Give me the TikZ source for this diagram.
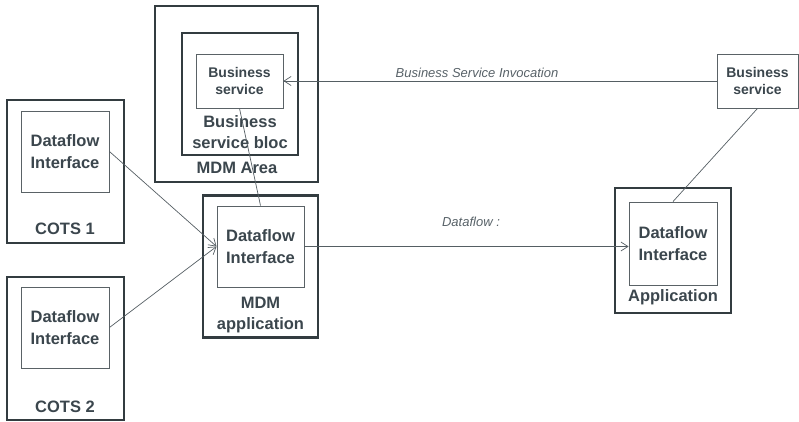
\documentclass[tikz,border=0pt]{standalone}
\usepackage{fontspec}
\setmainfont{Liberation Sans}
\usetikzlibrary{arrows.meta}
\definecolor{ink}{HTML}{3B464D}
\definecolor{frame}{HTML}{333C40}
\definecolor{thin}{HTML}{5A6266}
\definecolor{conn}{HTML}{555E63}
\tikzset{
  outerbox/.style={draw=frame, line width=2.6pt, minimum width=#1, inner sep=0pt},
  innerbox/.style={draw=thin, line width=0.9pt, fill=white, inner sep=0pt, align=center, font=\fontsize{16.5}{22}\selectfont\bfseries, text=ink},
  smallbox/.style={draw=thin, line width=0.9pt, fill=white, inner sep=0pt, align=center, font=\fontsize{14}{17}\selectfont\bfseries, text=ink},
  lbl/.style={align=center, font=\fontsize{16.5}{20.5}\selectfont\bfseries, text=ink, inner sep=0pt},
  ital/.style={font=\fontsize{13}{15}\selectfont\itshape, text=ink!85, inner sep=0pt},
  conline/.style={draw=conn, line width=0.7pt},
  arr/.style={conline, -{Straight Barb[length=7pt,width=9pt,line width=0.7pt]}}
}
\begin{document}
\begin{tikzpicture}[x=1pt,y=-1pt]
\useasboundingbox (0,0) rectangle (799,422);
% COTS 1
\node[outerbox=117pt, minimum height=143pt] (cots1) at (65.5,171.5) {};
\node[innerbox, minimum width=88pt, minimum height=81pt] (di1) at (65,151.5) {Dataflow\\Interface};
\node[lbl] (c1lbl) at (65,229) {COTS 1};
% COTS 2
\node[outerbox=117pt, minimum height=143pt] (cots2) at (65.5,348.5) {};
\node[innerbox, minimum width=88pt, minimum height=81pt] (di2) at (65,327.5) {Dataflow\\Interface};
\node[lbl] (c2lbl) at (65,407) {COTS 2};
% MDM Area
\node[outerbox=163pt, minimum height=176pt] (area) at (236.5,94) {};
\node[outerbox=116pt, minimum height=122pt] (bloc) at (240,94) {};
\node[smallbox, minimum width=87pt, minimum height=54pt] (bs) at (239.5,81) {Business\\service};
\node[lbl] (bloclbl) at (240,132) {Business\\service bloc};
\node[lbl] (arealbl) at (237,168) {MDM Area};
% MDM application
\node[outerbox=115pt, minimum height=142pt] (mdm) at (260.5,266.5) {};
\node[innerbox, minimum width=87pt, minimum height=81pt] (mdmin) at (260.5,246.5) {Dataflow\\Interface};
\node[lbl] (mdmlbl) at (260.5,315) {MDM\\application};
% Application
\node[outerbox=116pt, minimum height=125pt] (app) at (673,250.5) {};
\node[innerbox, minimum width=88pt, minimum height=83pt] (appin) at (673,243.5) {Dataflow\\Interface};
\node[lbl] (applbl) at (673,297) {Application};
% right business service
\node[smallbox, minimum width=81pt, minimum height=54pt] (rbs) at (757.5,81) {Business\\service};
% connectors
\draw[arr] (di1.east) -- (mdmin.west);
\draw[arr] (di2.east) -- (mdmin.west);
\draw[conline] (mdmin.north) -- (bs.south);
\draw[arr] (mdmin.east) -- (mdmin.east -| appin.west);
\draw[arr] (rbs.west) -- (bs.east);
\draw[conline] (rbs.south) -- (appin.north);
\node[ital] (inv) at (477,73) {Business Service Invocation};
\node[ital] (df) at (471,222) {Dataflow :};
\end{tikzpicture}
\end{document}
